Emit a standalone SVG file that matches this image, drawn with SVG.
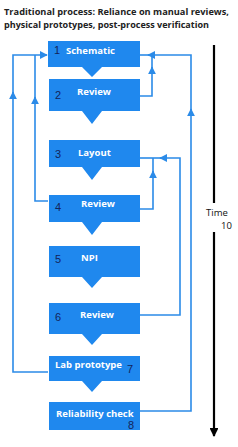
<svg xmlns="http://www.w3.org/2000/svg" width="238" height="447" viewBox="0 0 238 447">
<defs>
<style>
.box{fill:#1f88ee;}
.num{font-family:"Liberation Sans",Arial,sans-serif;font-size:11px;fill:#13245a;}
.lbl{font-family:"Open Sans","Liberation Sans",sans-serif;font-weight:bold;font-size:9.5px;fill:#ffffff;}
.title{font-family:"Open Sans","Liberation Sans",sans-serif;font-weight:bold;font-size:9px;fill:#222222;}
.con{fill:none;stroke:#2b8be8;stroke-width:1.6;}
.time{fill:none;stroke:#000000;stroke-width:2.2;}
.tt{font-family:"Open Sans","Liberation Sans",sans-serif;font-size:9.5px;fill:#111111;}
</style>
<marker id="ah" viewBox="0 0 10 10" refX="9" refY="5" markerWidth="5" markerHeight="5" orient="auto" markerUnits="strokeWidth">
<path d="M0,0 L10,5 L0,10 Z" fill="#2b8be8"/>
</marker>
<marker id="ahk" viewBox="0 0 10 10" refX="9" refY="5" markerWidth="4" markerHeight="4" orient="auto" markerUnits="strokeWidth">
<path d="M0,0 L10,5 L0,10 Z" fill="#000000"/>
</marker>
</defs>
<rect width="238" height="447" fill="#ffffff"/>
<text class="title" x="4" y="15" textLength="225" lengthAdjust="spacingAndGlyphs">Traditional process: Reliance on manual reviews,</text>
<text class="title" x="4" y="28" textLength="205" lengthAdjust="spacingAndGlyphs">physical prototypes, post-process verification</text>

<g id="connectors">
<path class="con" d="M48,372 H13 V92" marker-end="url(#ah)"/>
<path class="con" d="M13,94 V55 H47" marker-end="url(#ah)"/>
<path class="con" d="M48,201 H35 V97" marker-end="url(#ah)"/>
<path class="con" d="M35,99 V55"/>
<path class="con" d="M140,96 H152 V67" marker-end="url(#ah)"/>
<path class="con" d="M152,69 V55"/>
<path class="con" d="M140,411 H191 V109" marker-end="url(#ah)"/>
<path class="con" d="M191,111 V55 H148" marker-end="url(#ah)"/>
<path class="con" d="M149,55 H140"/>
<path class="con" d="M140,209 H153 V171" marker-end="url(#ah)"/>
<path class="con" d="M153,173 V158"/>
<path class="con" d="M140,315 H180 V158 H160" marker-end="url(#ah)"/>
<path class="con" d="M161,158 H140"/>
</g>

<g id="time-axis">
<path class="time" d="M214,45 V203"/>
<path class="time" d="M214,232 V436" marker-end="url(#ahk)"/>
<text class="tt" x="206" y="216">Time</text>
<text class="tt" x="221" y="229">10</text>
</g>

<g id="n1">
<path class="box" d="M48,41 H140 V67 H102 L92,77 L82,67 H48 Z"/>
<text class="num" x="54" y="54">1</text>
<text class="lbl" x="66" y="54">Schematic</text>
</g>
<g id="n2">
<path class="box" d="M49,79 H140 V111 H102 L92,124 L82,111 H49 Z"/>
<text class="num" x="55" y="99">2</text>
<text class="lbl" x="77" y="95">Review</text>
</g>
<g id="n3">
<path class="box" d="M49,140 H140 V167 H102 L92,180 L82,167 H49 Z"/>
<text class="num" x="55" y="158">3</text>
<text class="lbl" x="78" y="156">Layout</text>
</g>
<g id="n4">
<path class="box" d="M49,195 H140 V222 H102 L92,235 L82,222 H49 Z"/>
<text class="num" x="55" y="211">4</text>
<text class="lbl" x="81" y="207">Review</text>
</g>
<g id="n5">
<path class="box" d="M49,246 H140 V277 H102 L92,288 L82,277 H49 Z"/>
<text class="num" x="55" y="263">5</text>
<text class="lbl" x="81" y="261">NPI</text>
</g>
<g id="n6">
<path class="box" d="M49,303 H140 V334 H102 L92,345 L82,334 H49 Z"/>
<text class="num" x="55" y="321">6</text>
<text class="lbl" x="80" y="318">Review</text>
</g>
<g id="n7">
<path class="box" d="M49,356 H140 V381 H102 L92,392 L82,381 H49 Z"/>
<text class="lbl" x="55" y="368">Lab prototype</text>
<text class="num" x="127" y="373">7</text>
</g>
<g id="n8">
<path class="box" d="M49,402 H140 V430 H49 Z"/>
<text class="lbl" x="56" y="417">Reliability check</text>
<text class="num" x="128" y="429">8</text>
</g>
</svg>
